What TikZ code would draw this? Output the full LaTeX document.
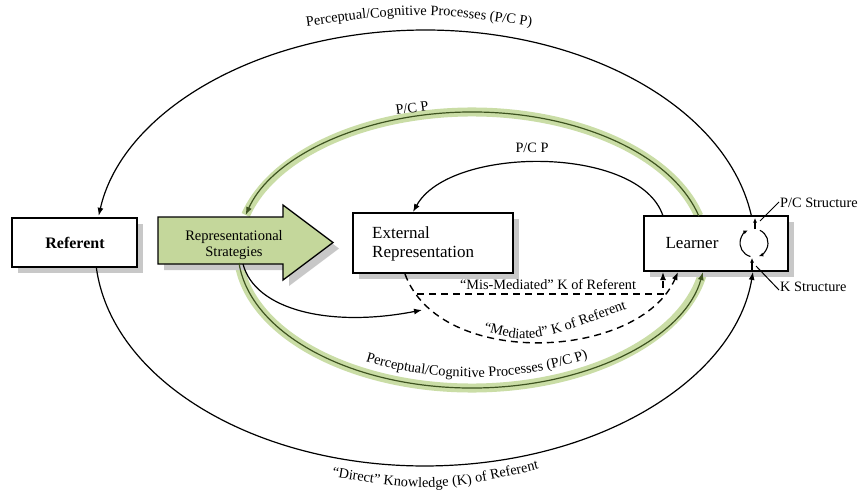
\documentclass[tikz,border=0pt]{standalone}
\usepackage{fontspec}
\setmainfont{Liberation Serif}
\usetikzlibrary{arrows.meta,decorations.text,shadows}
\definecolor{lgreen}{HTML}{C4D79B}
\definecolor{halo}{HTML}{CADDA6}
\definecolor{dgreen}{HTML}{3E5320}
\definecolor{shadowgray}{HTML}{C8C8C8}
\newcommand{\lblfont}{\fontsize{14.3}{16}\selectfont}
\begin{document}
\begin{tikzpicture}[x=1pt,y=-1pt,
  box/.style={draw=black, line width=1.3pt, fill=white, inner sep=0pt,
    drop shadow={shadow xshift=6pt, shadow yshift=-6pt, fill=shadowgray, opacity=1}},
  conn/.style={draw=black, line width=1.2pt},
  arr/.style={-{Latex[length=8pt,width=6pt]}},
  smallarr/.style={-{Latex[length=4.5pt,width=4pt]}},
  dashline/.style={draw=black, line width=1.4pt, dash pattern=on 7pt off 5pt},
  greenhalo/.style={draw=halo, line width=9pt},
  greenline/.style={draw=dgreen, line width=1.2pt},
  lbl/.style={font=\lblfont, inner sep=0pt},
]
\useasboundingbox (0,0) rectangle (858,491);
\fill[white] (0,0) rectangle (858,491);

% ---- named end points ----
\coordinate (oT) at (751.4,215.8);   % outer top arc start (Learner top)
\coordinate (oB) at (96.4,268.1);    % outer bottom arc start (Referent bottom)
\coordinate (gT) at (698.8,216.0);   % green top arc start (Learner top)
\coordinate (gB) at (239.0,263.0);   % green bottom arc start (strategies bottom)
\coordinate (iT) at (663,216);       % inner P/C P start
\coordinate (iE) at (413,212);       % inner P/C P end (External Rep top)
\coordinate (bS) at (243,264);       % black arrow start
\coordinate (bE) at (422,310);       % black arrow end
\coordinate (dS) at (405,274);       % mediated dashed start
\coordinate (dE) at (678,272);       % mediated dashed end
\coordinate (mS) at (417,294);       % mis-mediated start
\coordinate (mE) at (663,272);       % mis-mediated end

% ---- green loop halos ----
\path[greenhalo] (gT) arc[start angle=14.26, end angle=165.3, x radius=234pt, y radius=138pt];
\path[greenhalo] (gB) arc[start angle=185.4, end angle=350.8, x radius=234pt, y radius=138pt];

% ---- boxes ----
\node[box, minimum width=125pt, minimum height=49pt] (ref) at (74.5,242.5) {};
\node[font=\fontsize{16}{18}\selectfont\bfseries, inner sep=0pt] (reft) at (75,243) {Referent};

\node[box, minimum width=160pt, minimum height=60pt] (ext) at (433,243) {};
\node[font=\fontsize{17}{19}\selectfont, align=left, anchor=west, inner sep=0pt] (extt) at (372,244) {External\\Representation};

\node[box, minimum width=144pt, minimum height=55pt] (lrn) at (716,243.5) {};
\node[font=\fontsize{17}{19}\selectfont, inner sep=0pt] (lrnt) at (692,243) {Learner};

% ---- representational strategies arrow ----
\fill[shadowgray] (164,223) -- (289,223) -- (289,211) -- (339,248.5) -- (289,286) -- (289,270) -- (164,270) -- cycle;
\draw[line width=1.3pt, fill=lgreen] (158,217) -- (283,217) -- (283,205) -- (333,242.5) -- (283,280) -- (283,264) -- (158,264) -- cycle;
\node[font=\fontsize{14.5}{16}\selectfont, align=center, inner sep=0pt] (rs) at (234,245) {Representational\\Strategies};

% ---- green loop lines ----
\draw[greenline, arr] (gT) arc[start angle=14.26, end angle=165.3, x radius=234pt, y radius=138pt];
\draw[greenline, arr] (gB) arc[start angle=185.4, end angle=350.8, x radius=234pt, y radius=138pt];

% ---- outer loop ----
\draw[conn, arr] (oT) arc[start angle=8.5, end angle=171.5, x radius=330pt, y radius=218pt];
\draw[conn, arr] (oB) arc[start angle=185.3, end angle=353.7, x radius=330pt, y radius=218pt];

% ---- inner P/C P ----
\draw[conn, arr] (iT) .. controls (640,145) and (450,145) .. (iE);

% ---- strategies to external representation ----
\draw[conn, arr] (bS) .. controls (255,310) and (330,328) .. (bE);

% ---- dashed knowledge paths ----
\draw[dashline, arr] (dS) .. controls (440,370) and (640,360) .. (dE);
\draw[dashline, arr] (mS) -- (663,294) -- (mE);

% ---- cycle in learner ----
\coordinate (cL) at (750.4,256.5);
\coordinate (cR) at (759.9,230.3);
\draw[line width=1.1pt, smallarr] (cL) arc[start angle=255, end angle=116, radius=14pt];
\draw[line width=1.1pt, smallarr] (cR) arc[start angle=65, end angle=-70, radius=14pt];
\coordinate (pcA) at (755,229);
\coordinate (pcB) at (755,218);
\coordinate (kA) at (752,271);
\coordinate (kB) at (752,258);
\draw[line width=1.1pt, smallarr] (pcA) -- (pcB);
\draw[line width=1.1pt, smallarr] (kA) -- (kB);

% ---- structure labels ----
\node[lbl, anchor=west] (pcs) at (780,203) {P/C Structure};
\node[lbl, anchor=west] (ks) at (780,287) {K Structure};
\draw[line width=1pt] (pcs.west) ++(-1pt,1pt) -- (760,221);
\draw[line width=1pt] (ks.west) ++(-1pt,-3pt) -- (756,266);

% ---- labels ----
\node[lbl, rotate=8] (gpcp) at (412,108) {P/C P};
\node[lbl] (ipcp) at (532,148) {P/C P};
\node[lbl] (mis) at (548,285) {“Mis-Mediated” K of Referent};

\path[decorate, decoration={text along path, text align=center,
  text={|\lblfont|Perceptual/Cognitive Processes (P/C P)}}]
  (283,29.7) .. controls (419,10.3) .. (555,29.7);
\path[decorate, decoration={text along path, text align=center,
  text={|\lblfont|“Direct” Knowledge (K) of Referent}}]
  (280,467) .. controls (435,495.6) .. (590,456);
\path[decorate, decoration={text along path, text align=center,
  text={|\lblfont|Perceptual/Cognitive Processes (P/C P)}}]
  (273.3,307.7) arc[start angle=207, end angle=337, x radius=223pt, y radius=127pt];
\path[decorate, decoration={text along path, text align=center,
  text={|\lblfont|“Mediated” K of Referent}}]
  (470,327) .. controls (530,345) .. (640,304);
\end{tikzpicture}
\end{document}
